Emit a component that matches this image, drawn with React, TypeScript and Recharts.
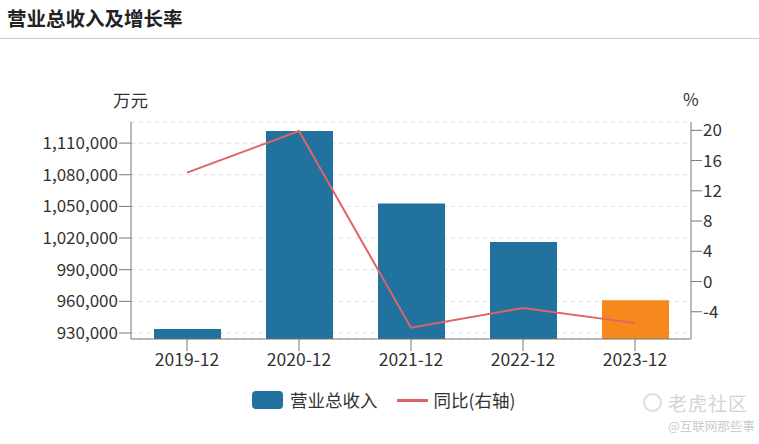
import React from 'react';
import {
  ComposedChart,
  Bar,
  Line,
  Cell,
  XAxis,
  YAxis,
  CartesianGrid,
} from 'recharts';

const categories = ['2019-12', '2020-12', '2021-12', '2022-12', '2023-12'];
const revenue = [933800, 1121400, 1052800, 1016200, 961000];
const growth = [14.4, 19.9, -6.1, -3.5, -5.5];
const leftTicks = [930000, 960000, 990000, 1020000, 1050000, 1080000, 1110000];
const rightTicks = [-4, 0, 4, 8, 12, 16, 20];

const BLUE = '#21729E';
const ORANGE = '#F5891E';
const RED = '#E06464';
const FONT = '"Noto Sans CJK SC", "Open Sans", sans-serif';

const data = categories.map((c, i) => ({ name: c, revenue: revenue[i], growth: growth[i] }));

const yTick = { fontSize: 17, fill: '#333', fontFamily: FONT };
const xTick = { fontSize: 17.5, fill: '#333', fontFamily: FONT };

export default function App() {
  return (
    <div
      style={{
        position: 'fixed',
        left: 0,
        top: 0,
        width: 759,
        height: 444,
        background: '#fff',
        fontFamily: FONT,
        overflow: 'hidden',
      }}
    >
      <div
        style={{
          position: 'absolute',
          left: 7,
          top: 4,
          fontSize: 19.5,
          fontWeight: 700,
          color: '#222',
          lineHeight: '28px',
        }}
      >
        营业总收入及增长率
      </div>
      <div style={{ position: 'absolute', left: 0, top: 38, width: 759, height: 1, background: '#ccc' }} />

      <div style={{ position: 'absolute', left: 113, top: 88, fontSize: 17.5, color: '#333', lineHeight: '24px' }}>万元</div>
      <div style={{ position: 'absolute', left: 683, top: 87, fontSize: 17, color: '#333', lineHeight: '24px' }}>%</div>

      <div style={{ position: 'absolute', left: 0, top: 0 }}>
        <ComposedChart
          width={759}
          height={444}
          data={data}
          margin={{ top: 122, right: 0, bottom: 75, left: 0 }}
        >
          <CartesianGrid
            yAxisId="left"
            vertical={false}
            stroke="#ddd"
            strokeDasharray="4 4"
          />
          <XAxis
            dataKey="name"
            height={30}
            tick={xTick}
            tickSize={12}
            tickMargin={3}
            stroke="#777"
          />
          <YAxis
            yAxisId="left"
            width={131}
            domain={[924300, 1130000]}
            ticks={leftTicks}
            allowDataOverflow
            interval={0}
            tick={yTick}
            tickSize={12}
            tickMargin={1}
            stroke="#777"
            tickFormatter={(v: number) => v.toLocaleString('en-US')}
          />
          <YAxis
            yAxisId="right"
            orientation="right"
            width={68}
            domain={[-7.6, 21.1]}
            ticks={rightTicks}
            allowDataOverflow
            interval={0}
            tick={yTick}
            tickSize={11}
            tickMargin={1}
            stroke="#777"
          />
          <Bar yAxisId="left" dataKey="revenue" barSize={67} isAnimationActive={false}>
            {data.map((_, i) => (
              <Cell key={i} fill={i === data.length - 1 ? ORANGE : BLUE} />
            ))}
          </Bar>
          <Line
            yAxisId="right"
            dataKey="growth"
            type="linear"
            stroke={RED}
            strokeWidth={2}
            dot={false}
            activeDot={false}
            isAnimationActive={false}
          />
        </ComposedChart>
      </div>

      {/* legend */}
      <div
        style={{
          position: 'absolute',
          left: 252,
          top: 388,
          height: 24,
          display: 'flex',
          alignItems: 'center',
          fontSize: 17.5,
          color: '#333',
          lineHeight: '24px',
        }}
      >
        <span style={{ display: 'inline-block', width: 31, height: 18, borderRadius: 4, background: BLUE, marginRight: 7 }} />
        <span style={{ marginRight: 19 }}>营业总收入</span>
        <span style={{ display: 'inline-block', width: 31, height: 3, background: RED, marginRight: 6 }} />
        <span>同比(右轴)</span>
      </div>

      {/* watermark */}
      <div style={{ position: 'absolute', left: 643, top: 389, display: 'flex', alignItems: 'center', color: '#d4d4d4' }}>
        <span
          style={{
            display: 'inline-block',
            width: 19,
            height: 19,
            borderRadius: 10,
            border: '2px solid #ddd',
            marginRight: 6,
            boxSizing: 'border-box',
          }}
        />
        <span style={{ fontSize: 19, letterSpacing: 1 }}>老虎社区</span>
      </div>
      <div style={{ position: 'absolute', left: 668, top: 416, fontSize: 12.5, color: '#ccc' }}>@互联网那些事</div>
    </div>
  );
}
